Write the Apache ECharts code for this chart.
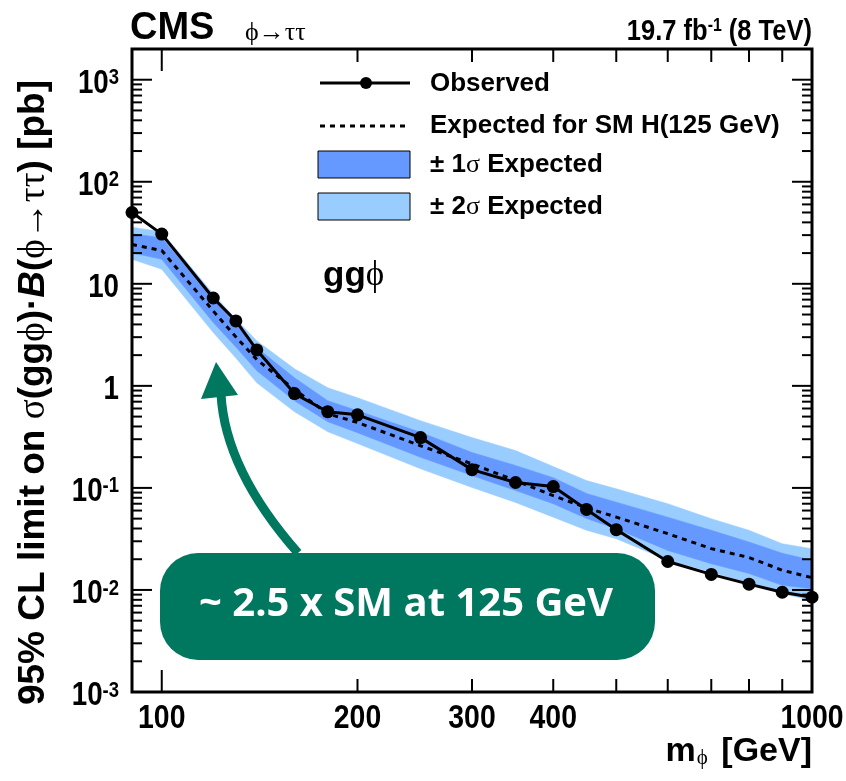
<!DOCTYPE html>
<html><head><meta charset="utf-8">
<script src="https://cdn.jsdelivr.net/npm/echarts@6/dist/echarts.min.js"></script>
<style>html,body{margin:0;padding:0;background:#fff}#c{width:846px;height:781px}</style>
</head><body><div id="c"></div>
<script>
// ---- data ----
const masses   = [90, 100, 120, 130, 140, 160, 180, 200, 250, 300, 350, 400, 450, 500, 600, 700, 800, 900, 1000];
const observed = [50, 30.7, 7.26, 4.33, 2.25, 0.84, 0.558, 0.52, 0.311, 0.151, 0.113, 0.103, 0.0615, 0.039, 0.019, 0.0142, 0.0114, 0.0095, 0.0085];
const expected = [24.3, 21.2, 5.42, 3.02, 1.81, 0.92, 0.533, 0.438, 0.259, 0.172, 0.118, 0.084, 0.0638, 0.0518, 0.0356, 0.0254, 0.0208, 0.0156, 0.0132];
const exp1Up   = [30.9, 28.2, 7.05, 3.96, 2.36, 1.2, 0.715, 0.571, 0.351, 0.222, 0.166, 0.126, 0.0882, 0.0725, 0.0517, 0.0384, 0.0295, 0.0229, 0.0195];
const exp1Down = [20.1, 17.4, 4.17, 2.41, 1.41, 0.715, 0.446, 0.348, 0.2, 0.132, 0.0944, 0.07, 0.0502, 0.0398, 0.0244, 0.0181, 0.0145, 0.0111, 0.0103];
const exp2Up   = [35.9, 32.3, 7.95, 4.53, 2.76, 1.47, 0.958, 0.765, 0.456, 0.311, 0.232, 0.162, 0.118, 0.098, 0.07, 0.0499, 0.0384, 0.0284, 0.0254];
const exp2Down = [17.4, 13.9, 3.33, 1.88, 1.07, 0.558, 0.356, 0.272, 0.154, 0.101, 0.072, 0.0517, 0.0384, 0.0318, 0.0195, 0.015, 0.0116, 0.0092, 0.0079];

// ---- axes / ticks ----
const xRange = [90, 1000];
const yRange = [0.001, 2000];
const xMajorTicks = [100, 1000];
const xMinorTicks = [200, 300, 400, 500, 600, 700, 800, 900];
const xTickLabels = [100, 200, 300, 400, 1000];
const yDecades = [-3, -2, -1, 0, 1, 2, 3];
const yMinorMultipliers = [2, 3, 4, 5, 6, 7, 8, 9];

const SANS = '"Liberation Sans",Arial,sans-serif';
const SERIF = '"Liberation Serif","DejaVu Serif",serif';
const DARK = '#6699ff', LIGHT = '#99ccff', TEAL = '#00775f';

function bandSeries(up, down, color) {
  return {
    type: 'custom', coordinateSystem: 'cartesian2d', silent: true, clip: true, z: 1,
    data: masses.map((m, i) => [m, up[i]]),
    encode: { x: 0, y: 1 },
    renderItem(params, api) {
      if (params.dataIndex !== 0) return null;
      const pts = [];
      for (let i = 0; i < masses.length; i++) pts.push(api.coord([masses[i], up[i]]));
      for (let i = masses.length - 1; i >= 0; i--) pts.push(api.coord([masses[i], down[i]]));
      return { type: 'polygon', shape: { points: pts }, style: { fill: color, stroke: color, lineWidth: 0.5 } };
    }
  };
}

const decorSeries = {
  type: 'custom', coordinateSystem: 'cartesian2d', silent: true, clip: false, z: 10,
  data: [[xRange[0], yRange[0]]],
  encode: { x: 0, y: 1 },
  renderItem(params, api) {
    const ch = [];
    const line = (x1, y1, x2, y2, w) => ch.push({ type: 'line', shape: { x1, y1, x2, y2 }, style: { stroke: '#000', lineWidth: w } });
    const bl = api.coord([xRange[0], yRange[0]]), tr = api.coord([xRange[1], yRange[1]]);
    const L = bl[0], B = bl[1], R = tr[0], T = tr[1];
    xMajorTicks.forEach(v => { const x = api.coord([v, yRange[0]])[0]; line(x, B, x, B - 22, 2); line(x, T, x, T + 22, 2); });
    xMinorTicks.forEach(v => { const x = api.coord([v, yRange[0]])[0]; line(x, B, x, B - 13, 2); line(x, T, x, T + 13, 2); });
    yDecades.forEach(d => {
      const y = api.coord([xRange[0], Math.pow(10, d)])[1];
      line(L, y, L + 20, y, 2); line(R, y, R - 20, y, 2);
      if (d < 3) yMinorMultipliers.forEach(k => {
        const yy = api.coord([xRange[0], k * Math.pow(10, d)])[1];
        line(L, yy, L + 10, yy, 2); line(R, yy, R - 10, yy, 2);
      });
      let text;
      if (d === 0) text = '{b|1}'; else if (d === 1) text = '{b|10}'; else text = '{b|10}{s|' + d + '}';
      ch.push({ type: 'text', x: L - 13, y: y + 4, scaleX: 0.84, style: { text, x: 0, y: 0, align: 'right', verticalAlign: 'middle',
        rich: { b: { font: 'bold 33px ' + SANS, fill: '#000' }, s: { font: 'bold 22px ' + SANS, fill: '#000', verticalAlign: 'top' } } } });
    });
    xTickLabels.forEach(v => {
      const x = api.coord([v, yRange[0]])[0];
      ch.push({ type: 'text', x: x, y: B + 27, scaleX: 0.86, style: { text: String(v), x: 0, y: 0, align: 'center', verticalAlign: 'middle', font: 'bold 33px ' + SANS, fill: '#000' } });
    });
    ch.push({ type: 'rect', shape: { x: L, y: T, width: R - L, height: B - T }, style: { fill: 'none', stroke: '#000', lineWidth: 3 } });
    return { type: 'group', children: ch };
  }
};

const chart = echarts.init(document.getElementById('c'), null, { renderer: 'canvas' });
chart.setOption({
  animation: false,
  backgroundColor: '#fff',
  grid: { left: 132, right: 34, top: 49, bottom: 89, show: false },
  xAxis: { type: 'log', logBase: 10, min: xRange[0], max: xRange[1], axisLine: { show: false }, axisTick: { show: false }, axisLabel: { show: false }, splitLine: { show: false } },
  yAxis: { type: 'log', logBase: 10, min: yRange[0], max: yRange[1], axisLine: { show: false }, axisTick: { show: false }, axisLabel: { show: false }, splitLine: { show: false } },
  series: [
    bandSeries(exp2Up, exp2Down, LIGHT),
    bandSeries(exp1Up, exp1Down, DARK),
    { type: 'line', name: 'Expected', data: masses.map((m, i) => [m, expected[i]]), showSymbol: false, z: 3,
      lineStyle: { color: '#000', width: 3, type: [5, 5] }, silent: true },
    { type: 'line', name: 'Observed', data: masses.map((m, i) => [m, observed[i]]), symbol: 'circle', symbolSize: 13, z: 4,
      lineStyle: { color: '#000', width: 3 }, itemStyle: { color: '#000' }, silent: true },
    decorSeries
  ],
  graphic: [
    // header
    { type: 'text', x: 130, y: 29, style: { text: 'CMS', x: 0, y: 0, font: 'bold 38px ' + SANS, fill: '#000', verticalAlign: 'middle' } },
    { type: 'text', x: 245, y: 33, style: { text: 'ϕ→ττ', x: 0, y: 0, font: '26px ' + SERIF, fill: '#000', verticalAlign: 'middle' } },
    { type: 'text', x: 812, y: 32, scaleX: 0.88, style: { text: '{a|19.7 fb}{s|-1}{a| (8 TeV)}', x: 0, y: 0, align: 'right', verticalAlign: 'middle',
        rich: { a: { font: 'bold 29px ' + SANS, fill: '#000' }, s: { font: 'bold 18px ' + SANS, fill: '#000', verticalAlign: 'top' } } } },
    // axis titles
    { type: 'text', x: 812, y: 752, style: { text: '{a|m}{p|ϕ}{a| [GeV]}', align: 'right', verticalAlign: 'middle',
        rich: { a: { font: 'bold 34px ' + SANS, fill: '#000' }, p: { font: '21px ' + SERIF, fill: '#000', verticalAlign: 'bottom', padding: [0, 4, 0, 1] } } } },
    { type: 'text', x: 34, y: 80, rotation: Math.PI / 2, style: { text: '{a|95% CL limit on }{g|σ}{a|(gg}{g|ϕ}{a|)·}{i|B}{a|(}{g|ϕ→ττ}{a|) [pb]}', x: 0, y: 0, align: 'right', verticalAlign: 'middle',
        rich: { a: { font: 'bold 37px ' + SANS, fill: '#000' }, i: { font: 'italic bold 37px ' + SANS, fill: '#000' }, g: { font: '37px ' + SERIF, fill: '#000' } } } },
    // legend
    { type: 'line', shape: { x1: 320, y1: 83, x2: 410, y2: 83 }, style: { stroke: '#000', lineWidth: 3 } },
    { type: 'circle', shape: { cx: 366, cy: 83, r: 6 }, style: { fill: '#000' } },
    { type: 'text', x: 430, y: 84, style: { text: 'Observed', font: 'bold 26px ' + SANS, fill: '#000', verticalAlign: 'middle' } },
    { type: 'line', shape: { x1: 320, y1: 126, x2: 410, y2: 126 }, style: { stroke: '#000', lineWidth: 3, lineDash: [5, 5] } },
    { type: 'text', x: 430, y: 126, style: { text: 'Expected for SM H(125 GeV)', font: 'bold 26px ' + SANS, fill: '#000', verticalAlign: 'middle' } },
    { type: 'rect', shape: { x: 318, y: 151, width: 92, height: 27 }, style: { fill: DARK, stroke: '#000', lineWidth: 1 } },
    { type: 'text', x: 430, y: 165, style: { text: '{a|± 1}{g|σ}{a| Expected}', verticalAlign: 'middle',
        rich: { a: { font: 'bold 26px ' + SANS, fill: '#000' }, g: { font: '26px ' + SERIF, fill: '#000' } } } },
    { type: 'rect', shape: { x: 318, y: 193, width: 92, height: 27 }, style: { fill: LIGHT, stroke: '#000', lineWidth: 1 } },
    { type: 'text', x: 430, y: 207, style: { text: '{a|± 2}{g|σ}{a| Expected}', verticalAlign: 'middle',
        rich: { a: { font: 'bold 26px ' + SANS, fill: '#000' }, g: { font: '26px ' + SERIF, fill: '#000' } } } },
    { type: 'text', x: 323, y: 276, style: { text: '{a|gg}{g|ϕ}', verticalAlign: 'middle',
        rich: { a: { font: 'bold 35px ' + SANS, fill: '#000' }, g: { font: '35px ' + SERIF, fill: '#000' } } } },
    // annotation
    { type: 'bezierCurve', shape: { x1: 298, y1: 553, cpx1: 225, cpy1: 470, x2: 221, y2: 394 }, style: { stroke: TEAL, lineWidth: 9, fill: 'none' } },
    { type: 'polygon', shape: { points: [[216, 362], [201, 399], [238, 395]] }, style: { fill: TEAL } },
    { type: 'rect', shape: { x: 160, y: 553, width: 495, height: 107, r: 38 }, style: { fill: TEAL } },
    { type: 'text', x: 406, y: 605, style: { text: '~ 2.5 x SM at 125 GeV', font: 'bold 40px "Open Sans",' + SANS, fill: '#fff', align: 'center', verticalAlign: 'middle' } }
  ]
});
</script></body></html>
